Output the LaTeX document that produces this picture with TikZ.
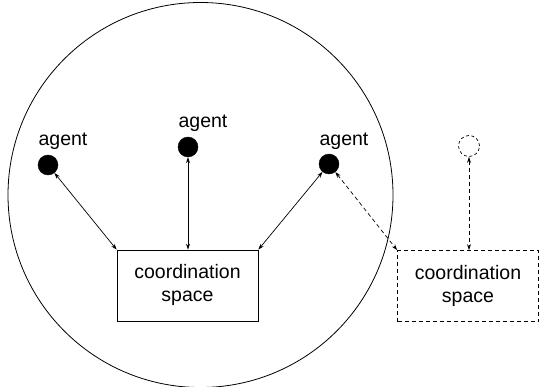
\documentclass[tikz,border=0pt]{standalone}
\usepackage{fontspec}
\setmainfont{Liberation Sans}
\usetikzlibrary{arrows.meta}
\begin{document}
\begin{tikzpicture}[x=1pt,y=-1pt,
  every node/.style={font=\fontsize{19.5}{23}\selectfont},
  agentdot/.style={circle,fill=black,draw=black,minimum size=20pt,inner sep=0pt},
  ghostdot/.style={circle,draw=black,dashed,dash pattern=on 3pt off 2.5pt,line width=0.7pt,minimum size=21pt,inner sep=0pt},
  spacebox/.style={draw=black,line width=0.7pt,minimum width=141pt,minimum height=71pt,align=center,inner sep=0pt},
  ghostbox/.style={spacebox,dashed,dash pattern=on 4pt off 3pt},
  label/.style={anchor=base,inner sep=0pt},
  link/.style={line width=0.7pt,{Stealth[length=6pt,width=4pt]}-{Stealth[length=6pt,width=4pt]}},
  ghostlink/.style={link,dash pattern=on 4pt off 3pt}]
\useasboundingbox (0,0) rectangle (540,387);
\draw[line width=0.8pt] (200.5,195) circle[radius=192.5];
\node[agentdot] (a1) at (48,165) {};
\node[agentdot] (a2) at (188,147) {};
\node[agentdot] (a3) at (329,164) {};
\node[ghostdot] (a4) at (469,146) {};
\node[label] (l1) at (63,145.5) {agent};
\node[label] (l2) at (203,127.5) {agent};
\node[label] (l3) at (344,146) {agent};
\node[spacebox] (b1) at (187.5,285.5) {\raisebox{0pt}{\begin{tabular}{@{}c@{}}coordination\\[0pt]space\end{tabular}}};
\node[ghostbox] (b2) at (468,286) {\raisebox{0pt}{\begin{tabular}{@{}c@{}}coordination\\[0pt]space\end{tabular}}};
\draw[link] (a1) -- (b1.north west);
\draw[link] (a2) -- (a2 |- b1.north);
\draw[link] (a3) -- (b1.north east);
\draw[ghostlink] (a3) -- (b2.north west);
\draw[ghostlink] (a4) -- (a4 |- b2.north);
\end{tikzpicture}
\end{document}
